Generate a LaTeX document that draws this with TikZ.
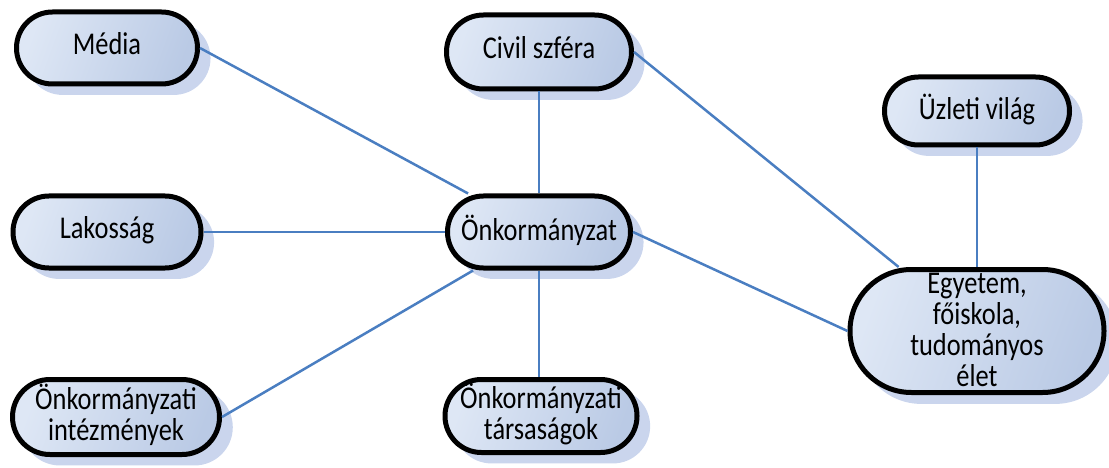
\documentclass[tikz,border=0pt]{standalone}
\usepackage{fontspec}
\usepackage{graphicx}
\setmainfont{Carlito}
\usetikzlibrary{shadows}
\definecolor{boxlight}{RGB}{222,231,245}
\definecolor{boxdark}{RGB}{186,202,229}
\definecolor{shadowc}{RGB}{202,213,237}
\definecolor{linkc}{RGB}{74,126,193}
\newcommand{\stretchtxt}[1]{\scalebox{1}[1.2]{\begin{tabular}{@{}c@{}}#1\end{tabular}}}
\tikzset{
  pill/.style={rectangle, rounded corners=#1, draw=black, line width=5pt,
    top color=boxlight, bottom color=boxdark, shading angle=70,
    inner sep=0pt, align=center, font=\fontsize{26.4}{24.5}\selectfont,
    drop shadow={shadow xshift=11pt, shadow yshift=-10pt, shadow scale=1.02, fill=shadowc, opacity=1}},
  pill/.default=35.9pt,
  link/.style={draw=linkc, line width=2.5pt}
}
\begin{document}
\begin{tikzpicture}[x=1pt,y=-1pt]
\useasboundingbox (0,0) rectangle (1109,468);
\node[pill, minimum width=181pt, minimum height=72pt] (media) at (107,48) {\stretchtxt{Média}};
\node[pill=36.9pt, minimum width=185pt, minimum height=74pt] (civil) at (539,52) {\stretchtxt{Civil szféra}};
\node[pill, minimum width=188pt, minimum height=72pt] (lak) at (107,232) {\stretchtxt{Lakosság}};
\node[pill, minimum width=183pt, minimum height=72pt] (onk) at (539,232) {\stretchtxt{Önkormányzat}};
\node[pill=37.4pt, minimum width=207pt, minimum height=75pt] (intez) at (116,417) {\stretchtxt{Önkormányzati\\intézmények}};
\node[pill=36.4pt, minimum width=192pt, minimum height=73pt] (tars) at (541,416) {\stretchtxt{Önkormányzati\\társaságok}};
\node[pill=33.9pt, minimum width=185pt, minimum height=68pt] (uzl) at (977,111) {\stretchtxt{Üzleti világ}};
\node[pill=61.4pt, minimum width=254pt, minimum height=123pt] (egy) at (977,331) {\raisebox{-3pt}[\height][\depth]{\stretchtxt{Egyetem,\\főiskola,\\tudományos\\élet}}};
\draw[link] (media.east) -- (onk);
\draw[link] (lak.east) -- (onk.west);
\draw[link] (intez.east) -- (onk);
\draw[link] (civil.south) -- (onk.north);
\draw[link] (onk.south) -- (onk.south |- tars.north);
\draw[link] (civil.east) -- (egy);
\draw[link] (onk.east) -- (egy.west);
\draw[link] (uzl.south) -- (egy.north);
\end{tikzpicture}
\end{document}
